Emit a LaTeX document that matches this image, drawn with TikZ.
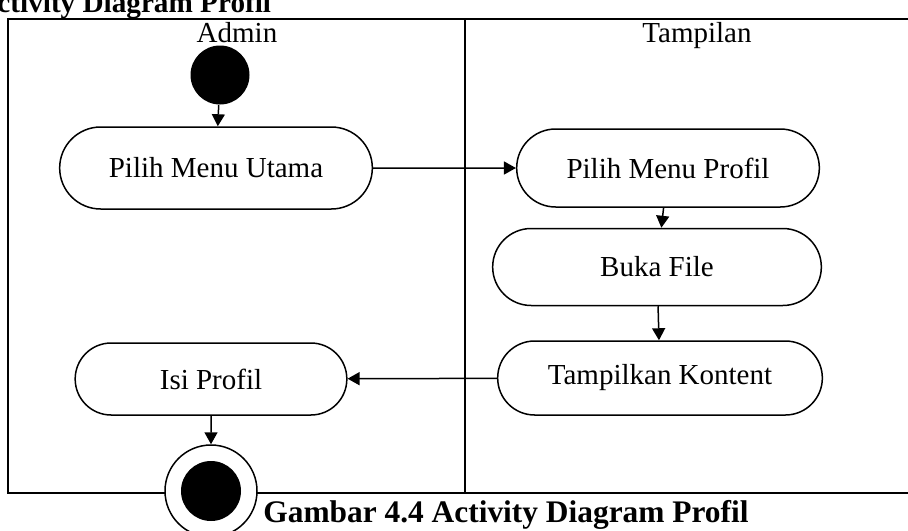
\documentclass[tikz,border=0pt]{standalone}
\usepackage{fontspec}
\setmainfont{Liberation Serif}
\usetikzlibrary{arrows.meta,shapes.misc}

\begin{document}
\begin{tikzpicture}[x=0.5pt,y=-0.5pt,
  act/.style={rounded rectangle, draw=black, line width=0.75pt, fill=white,
    font=\fontsize{14.5}{16}\selectfont},
  lane/.style={anchor=base, font=\fontsize{14.5}{16}\selectfont},
  flow/.style={-{Triangle[length=6pt,width=6.5pt]}, line width=0.75pt}]
  \useasboundingbox (0,0) rectangle (908,530);
  \clip (0,0) rectangle (908,530);

  % swimlanes
  \draw [line width=1.2pt] (8,19) rectangle (930,493);
  \draw [line width=1.2pt] (465,19) -- (465,493);
  \node (admin) [lane] at (237,42) {Admin};
  \node (tampil) [lane] at (697,42) {Tampilan};

  \node (title) [anchor=base west, inner sep=0pt, font=\fontsize{14.6}{17}\selectfont\bfseries] at (-24,12) {Activity Diagram Profil};

  \node (start) [circle, fill=black, minimum size=29.5pt, inner sep=0pt] at (220,75) {};

  \node (a1) [act, minimum width=163pt, minimum height=41pt] at (216,168) {Pilih Menu Utama};
  \node (t1) [act, minimum width=158pt, minimum height=39pt] at (668,168) {Pilih Menu Profil};
  \node (t2) [act, minimum width=171pt, minimum height=38.5pt] at (657,267) {Buka File};
  \node (t3) [act, minimum width=169pt, minimum height=37pt] at (660,378) {Tampilkan Kontent};
  \node (a2) [act, minimum width=142.5pt, minimum height=36pt] at (211,379) {Isi Profil};

  \node (stop) [circle, draw=black, line width=0.75pt, fill=white, minimum size=46pt, inner sep=0pt] at (211,491) {};
  \node (stopin) [circle, fill=black, minimum size=30pt, inner sep=0pt] at (stop) {};

  \node (caption) [anchor=base west, inner sep=0pt, font=\fontsize{15.7}{18}\selectfont\bfseries] at (263,522) {Gambar 4.4 Activity Diagram Profil};

  \path [flow]
  (start) edge node {} (a1)
  (a1) edge node {} (t1)
  (t1) edge node {} (t2)
  (t2) edge node {} (t3)
  (t3) edge node {} (a2)
  (a2) edge node {} (stop);
\end{tikzpicture}
\end{document}
